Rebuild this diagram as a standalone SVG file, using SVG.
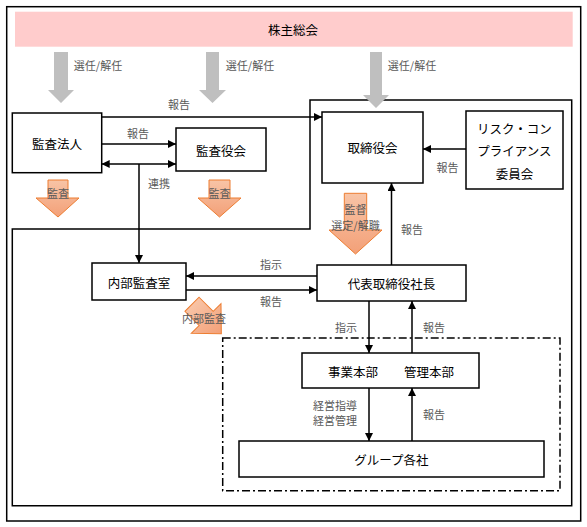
<svg xmlns="http://www.w3.org/2000/svg" width="587" height="527" viewBox="0 0 587 527">
<defs>
<style>
.box{fill:#fff;stroke:#000;stroke-width:1.5}
.frame{fill:none;stroke:#000;stroke-width:1.5}
.ln{fill:none;stroke:#000;stroke-width:1.5}
.nt{font-family:"Noto Sans CJK JP","Noto Sans",sans-serif;font-size:12.5px;fill:#000;text-anchor:middle;dominant-baseline:central}
.lb{font-family:"Noto Sans CJK JP","Noto Sans",sans-serif;font-size:11px;fill:#595959;text-anchor:middle;dominant-baseline:central}
.gray{fill:#bfbfbf}
.orange{fill:url(#og);stroke:#ed7d31;stroke-width:1}
</style>
<linearGradient id="og" x1="0" y1="0" x2="0" y2="1">
<stop offset="0" stop-color="#f8c4a6"/>
<stop offset="1" stop-color="#f3a078"/>
</linearGradient>
<linearGradient id="og2" x1="0" y1="0" x2="1" y2="0">
<stop offset="0" stop-color="#f8c4a6"/>
<stop offset="1" stop-color="#f3a078"/>
</linearGradient>
<marker id="ah" viewBox="0 0 10 10" refX="10" refY="5" markerWidth="8" markerHeight="8" markerUnits="userSpaceOnUse" orient="auto-start-reverse">
<path d="M0,0 L10,5 L0,10 Z" fill="#000"/>
</marker>
</defs>

<rect id="outer-frame" class="frame" x="6.7" y="6.7" width="574" height="514.3"/>
<polygon id="inner-frame" class="frame" points="310,100 571.7,100 571.7,505.7 12.3,505.7 12.3,229 310,229"/>
<rect id="group-frame" x="222.7" y="338" width="337.3" height="152.7" fill="none" stroke="#000" stroke-width="1.5" stroke-dasharray="8,3,2,3"/>

<g id="shareholders">
<rect x="15" y="11.7" width="557.7" height="35" fill="#ffcccc"/>
<text class="nt" x="293" y="29.5" font-size="12">株主総会</text>
</g>

<g id="big-arrows">
<polygon class="gray" points="54,52 68,52 68,90 74,90 61,103 48,90 54,90"/>
<polygon class="gray" points="206,52 219,52 219,90 226,90 212.5,103 199,90 206,90"/>
<polygon class="gray" points="370,52 382,52 382,95 389,95 376,108 363,95 370,95"/>
<text class="lb" x="98" y="65">選任/解任</text>
<text class="lb" x="250" y="65">選任/解任</text>
<text class="lb" x="412" y="65">選任/解任</text>

<polygon class="orange" points="48,180 68,180 68,198 79,198 58,217 36,198 48,198"/>
<text class="lb" x="58" y="193" fill="#404040">監査</text>
<polygon class="orange" points="209,180 230,180 230,198 241,198 219.5,217 198,198 209,198"/>
<text class="lb" x="219.5" y="193" fill="#404040">監査</text>

<polygon class="orange" points="344.3,193.3 366.7,193.3 366.7,230 382,230 355.5,254 329,230 344.3,230"/>
<text class="lb" x="355.5" y="208.8" font-size="10.5" fill="#404040">監督</text>
<text class="lb" x="355.5" y="224.8" font-size="10.5" fill="#404040">選定/解職</text>

<polygon fill="url(#og2)" stroke="#ed7d31" stroke-width="1" transform="translate(192,304.3) rotate(45)" points="0,-10 20,-10 20,-21 41.5,0 20,21 20,10 0,10"/>
<text class="lb" x="204" y="318" fill="#404040">内部監査</text>
</g>

<g id="connectors">
<line class="ln" x1="101.7" y1="117" x2="322" y2="117" marker-end="url(#ah)"/>
<text class="lb" x="179" y="104">報告</text>
<line class="ln" x1="101.7" y1="144" x2="176" y2="144" marker-end="url(#ah)"/>
<text class="lb" x="138" y="133">報告</text>
<line class="ln" x1="101.7" y1="164" x2="176" y2="164" marker-start="url(#ah)" marker-end="url(#ah)"/>
<line class="ln" x1="139" y1="164" x2="139" y2="263" marker-end="url(#ah)"/>
<text class="lb" x="159" y="183">連携</text>
<line class="ln" x1="466" y1="149" x2="423" y2="149" marker-end="url(#ah)"/>
<text class="lb" x="447.5" y="167">報告</text>
<line class="ln" x1="391.5" y1="265" x2="391.5" y2="183" marker-end="url(#ah)"/>
<text class="lb" x="412" y="229">報告</text>
<line class="ln" x1="317" y1="276" x2="186" y2="276" marker-end="url(#ah)"/>
<text class="lb" x="271" y="264">指示</text>
<line class="ln" x1="186" y1="290" x2="317" y2="290" marker-end="url(#ah)"/>
<text class="lb" x="271" y="301">報告</text>
<line class="ln" x1="369" y1="301" x2="369" y2="353" marker-end="url(#ah)"/>
<text class="lb" x="346" y="327">指示</text>
<line class="ln" x1="412" y1="353" x2="412" y2="301" marker-end="url(#ah)"/>
<text class="lb" x="434" y="327">報告</text>
<line class="ln" x1="369" y1="388" x2="369" y2="441" marker-end="url(#ah)"/>
<text class="lb" x="335" y="405">経営指導</text>
<text class="lb" x="335" y="420">経営管理</text>
<line class="ln" x1="412" y1="441" x2="412" y2="388" marker-end="url(#ah)"/>
<text class="lb" x="434" y="414">報告</text>
</g>

<g id="audit-firm">
<rect class="box" x="12.3" y="113" width="89.4" height="59.7"/>
<text class="nt" x="57" y="143" font-size="13">監査法人</text>
</g>
<g id="audit-board">
<rect class="box" x="176" y="128" width="90" height="43"/>
<text class="nt" x="221" y="150" font-size="13">監査役会</text>
</g>
<g id="board">
<rect class="box" x="322" y="112" width="101" height="71"/>
<text class="nt" x="372.5" y="147.5" font-size="13">取締役会</text>
</g>
<g id="risk-committee">
<rect class="box" x="466" y="111" width="97" height="78"/>
<text class="nt" x="514.5" y="128" font-size="12">リスク・コン</text>
<text class="nt" x="514.5" y="150" font-size="12">プライアンス</text>
<text class="nt" x="514.5" y="173" font-size="12">委員会</text>
</g>
<g id="internal-audit">
<rect class="box" x="92" y="263" width="94" height="37"/>
<text class="nt" x="139" y="282">内部監査室</text>
</g>
<g id="president">
<rect class="box" x="317" y="265" width="149" height="36"/>
<text class="nt" x="391.5" y="283">代表取締役社長</text>
</g>
<g id="divisions">
<rect class="box" x="302" y="353" width="177" height="35"/>
<text class="nt" x="353" y="371">事業本部</text>
<text class="nt" x="429" y="371">管理本部</text>
</g>
<g id="group-companies">
<rect class="box" x="239" y="441" width="305" height="36"/>
<text class="nt" x="391.5" y="459">グループ各社</text>
</g>
</svg>
